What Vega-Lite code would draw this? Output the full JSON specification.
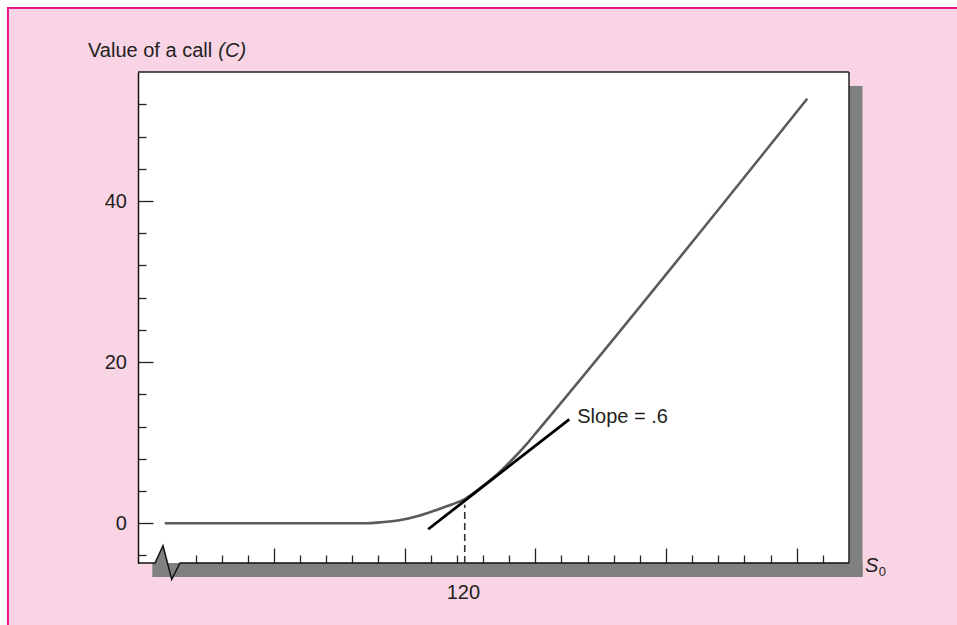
{
  "$schema": "https://vega.github.io/schema/vega-lite/v6.json",
  "width": 711,
  "height": 491,
  "autosize": {"type": "none"},
  "padding": {"left": 138, "top": 72, "right": 108, "bottom": 62},
  "background": "white",
  "config": {
    "view": {"stroke": null},
    "axis": {
      "grid": false,
      "labelFont": "Liberation Sans",
      "labelFontSize": 20,
      "labelColor": "#231f20",
      "tickColor": "#222222",
      "tickWidth": 1.3,
      "domainColor": "#111111",
      "domainWidth": 1.5
    },
    "text": {"font": "Liberation Sans", "fontSize": 20, "color": "#231f20"}
  },
  "datasets": {
    "curve": [
      {"S": 74.1, "C": 0},
      {"S": 105, "C": 0},
      {"S": 107, "C": 0.1},
      {"S": 110, "C": 0.36},
      {"S": 113, "C": 0.92},
      {"S": 116, "C": 1.74},
      {"S": 118, "C": 2.32},
      {"S": 120, "C": 3.0},
      {"S": 122.5, "C": 4.45},
      {"S": 125.4, "C": 6.4},
      {"S": 127.4, "C": 8.0},
      {"S": 129.5, "C": 9.85},
      {"S": 131, "C": 11.3},
      {"S": 172.4, "C": 52.7}
    ],
    "tangent": [
      {"S": 114.4, "C": -0.75},
      {"S": 136, "C": 12.9}
    ],
    "axisline": [
      {"S": 70, "C": -4.94},
      {"S": 72.6, "C": -4.94},
      {"S": 73.83, "C": -2.8},
      {"S": 75.16, "C": -6.97},
      {"S": 76.43, "C": -4.94},
      {"S": 178.8, "C": -4.94}
    ],
    "breakfill": [
      {"S": 72.6, "C": -4.94},
      {"S": 73.83, "C": -2.8},
      {"S": 74.51, "C": -4.94}
    ]
  },
  "layer": [
    {
      "data": {"values": [{}]},
      "mark": {"type": "rect", "fill": "#f8d4e5", "stroke": "#e6168a", "strokeWidth": 2},
      "encoding": {
        "x": {"datum": 50.1, "type": "quantitative"},
        "x2": {"datum": 240},
        "y": {"datum": 63.97, "type": "quantitative"},
        "y2": {"datum": -30}
      }
    },
    {
      "data": {"values": [{}]},
      "mark": {"type": "rect", "fill": "#808080"},
      "encoding": {
        "x": {"datum": 178.8, "type": "quantitative"},
        "x2": {"datum": 180.87},
        "y": {"datum": 54.28, "type": "quantitative"},
        "y2": {"datum": -6.68}
      }
    },
    {
      "data": {"values": [{}]},
      "mark": {"type": "rect", "fill": "#808080"},
      "encoding": {
        "x": {"datum": 72.19, "type": "quantitative"},
        "x2": {"datum": 180.87},
        "y": {"datum": -4.94, "type": "quantitative"},
        "y2": {"datum": -6.68}
      }
    },
    {
      "data": {"values": [{}]},
      "mark": {"type": "rect", "fill": "white"},
      "encoding": {
        "x": {"datum": 70, "type": "quantitative"},
        "x2": {"datum": 178.8},
        "y": {"datum": -4.94, "type": "quantitative"},
        "y2": {"datum": 56.02}
      }
    },
    {
      "data": {"name": "breakfill"},
      "mark": {"type": "area", "fill": "#808080"},
      "encoding": {
        "x": {"field": "S", "type": "quantitative", "title": null},
        "y": {"field": "C", "type": "quantitative", "title": null},
        "y2": {"datum": -4.94}
      }
    },
    {
      "data": {"values": [{}]},
      "mark": {"type": "rule", "stroke": "#222222", "strokeWidth": 1.5},
      "encoding": {
        "x": {"datum": 70, "type": "quantitative"},
        "x2": {"datum": 178.8},
        "y": {"datum": 56.02, "type": "quantitative"}
      }
    },
    {
      "data": {"values": [{}]},
      "mark": {"type": "rule", "stroke": "#222222", "strokeWidth": 1.5},
      "encoding": {
        "x": {"datum": 178.8, "type": "quantitative"},
        "y": {"datum": -4.94, "type": "quantitative"},
        "y2": {"datum": 56.02}
      }
    },
    {
      "data": {"name": "axisline"},
      "mark": {"type": "line", "stroke": "#111111", "strokeWidth": 1.5, "strokeJoin": "miter"},
      "encoding": {
        "x": {"field": "S", "type": "quantitative", "title": null},
        "y": {"field": "C", "type": "quantitative", "title": null}
      }
    },
    {
      "data": {"name": "curve"},
      "mark": {"type": "line", "stroke": "#5a5a5a", "strokeWidth": 2.6, "interpolate": "monotone"},
      "encoding": {
        "x": {
          "field": "S",
          "type": "quantitative",
          "title": null,
          "scale": {"domain": [70, 178.8], "nice": false, "zero": false},
          "axis": {
            "zindex": 1,
            "tickCount": 100,
            "values": [78.8, 82.8, 86.8, 90.8, 94.8, 98.8, 102.8, 106.8, 110.8, 114.8, 118.8, 122.8, 126.8, 130.8, 134.8, 138.8, 142.8, 146.8, 150.8, 154.8, 158.8, 162.8, 166.8, 170.8, 174.8],
            "labels": false,
            "domain": false,
            "tickSize": {"condition": {"test": "abs((datum.value - 90.8) / 20 - round((datum.value - 90.8) / 20)) < 0.01", "value": -15}, "value": -8}
          }
        },
        "y": {
          "field": "C",
          "type": "quantitative",
          "title": null,
          "scale": {"domain": [-4.94, 56.02], "nice": false, "zero": false},
          "axis": {
            "zindex": 1,
            "tickCount": 100,
            "format": "d",
            "values": [-4, 0, 4, 8, 12, 16, 20, 24, 28, 32, 36, 40, 44, 48, 52],
            "labelExpr": "datum.value % 20 === 0 ? datum.label : ''",
            "labelPadding": 26.6,
            "labelOverlap": false,
            "tickSize": {"condition": {"test": "datum.value % 20 === 0", "value": -15}, "value": -8}
          }
        }
      }
    },
    {
      "data": {"name": "tangent"},
      "mark": {"type": "line", "stroke": "#000000", "strokeWidth": 2.8},
      "encoding": {
        "x": {"field": "S", "type": "quantitative", "title": null},
        "y": {"field": "C", "type": "quantitative", "title": null}
      }
    },
    {
      "data": {"values": [{}]},
      "mark": {"type": "rule", "stroke": "#333333", "strokeWidth": 1.6, "strokeDash": [7, 4]},
      "encoding": {
        "x": {"datum": 120, "type": "quantitative"},
        "y": {"datum": -4.94, "type": "quantitative"},
        "y2": {"datum": 2.3}
      }
    },
    {
      "data": {"values": [{}]},
      "mark": {"type": "text", "text": "Slope = .6", "align": "left", "baseline": "alphabetic"},
      "encoding": {
        "x": {"datum": 137.22, "type": "quantitative"},
        "y": {"datum": 12.48, "type": "quantitative"}
      }
    },
    {
      "data": {"values": [{}]},
      "mark": {"type": "text", "text": "120", "align": "center", "baseline": "alphabetic"},
      "encoding": {
        "x": {"datum": 119.8, "type": "quantitative"},
        "y": {"datum": -9.41, "type": "quantitative"}
      }
    },
    {
      "data": {"values": [{}]},
      "mark": {"type": "text", "text": "Value of a call", "align": "left", "baseline": "alphabetic"},
      "encoding": {
        "x": {"datum": 62.35, "type": "quantitative"},
        "y": {"datum": 57.85, "type": "quantitative"}
      }
    },
    {
      "data": {"values": [{}]},
      "mark": {"type": "text", "text": "(C)", "align": "left", "baseline": "alphabetic", "fontStyle": "italic"},
      "encoding": {
        "x": {"datum": 82.29, "type": "quantitative"},
        "y": {"datum": 57.85, "type": "quantitative"}
      }
    },
    {
      "data": {"values": [{}]},
      "mark": {"type": "text", "text": "S", "align": "left", "baseline": "alphabetic", "fontStyle": "italic"},
      "encoding": {
        "x": {"datum": 181.25, "type": "quantitative"},
        "y": {"datum": -6.06, "type": "quantitative"}
      }
    },
    {
      "data": {"values": [{}]},
      "mark": {"type": "text", "text": "0", "align": "left", "baseline": "alphabetic", "fontSize": 13},
      "encoding": {
        "x": {"datum": 183.35, "type": "quantitative"},
        "y": {"datum": -6.5, "type": "quantitative"}
      }
    }
  ]
}
